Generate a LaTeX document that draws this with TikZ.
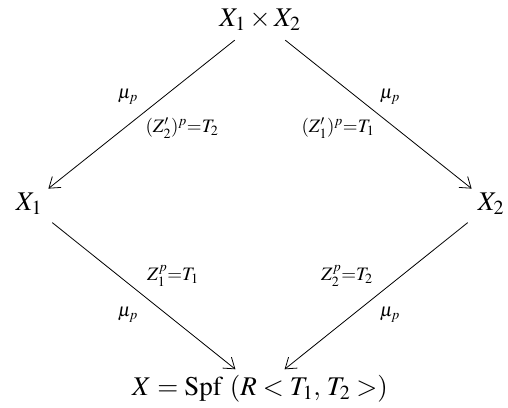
\documentclass[tikz,border=0pt]{standalone}
\usepackage{mathptmx}
\usetikzlibrary{arrows.meta}
\begin{document}
\begin{tikzpicture}[x=1pt,y=-1pt,
  obj/.style={inner sep=6pt,font=\fontsize{27}{32}\selectfont},
  lab/.style={inner sep=0pt,font=\fontsize{19}{22}\selectfont},
  arr/.style={line width=0.8pt,shorten <=5pt,-{Straight Barb[length=10pt,width=14pt,line width=0.8pt]}}]
\useasboundingbox (0,0) rectangle (508,407);
\node[obj] (top) at (260,20) {$X_1\times X_2$};
\node[obj] (left) at (29,204) {$X_1$};
\node[obj] (right) at (491,204) {$X_2$};
\node[obj] (bot) at (260,389) {$X=\mathrm{Spf}\ (R<T_1,\,T_2>)$};
\draw[arr] (top) -- (left);
\draw[arr] (top) -- (right);
\draw[arr] (left) -- (bot);
\draw[arr] (right) -- (bot);
\node[lab] (l1) at (128,97) {$\mu_p$};
\node[lab] (l2) at (390,97) {$\mu_p$};
\node[lab] (l3) at (128,315) {$\mu_p$};
\node[lab] (l4) at (390,315) {$\mu_p$};
\node[lab] (e1) at (182,128) {$(Z'_2)^p{=}T_2$};
\node[lab] (e2) at (338,128) {$(Z'_1)^p{=}T_1$};
\node[lab] (e3) at (173,276) {$Z_1^p{=}T_1$};
\node[lab] (e4) at (347,276) {$Z_2^p{=}T_2$};
\end{tikzpicture}
\end{document}
